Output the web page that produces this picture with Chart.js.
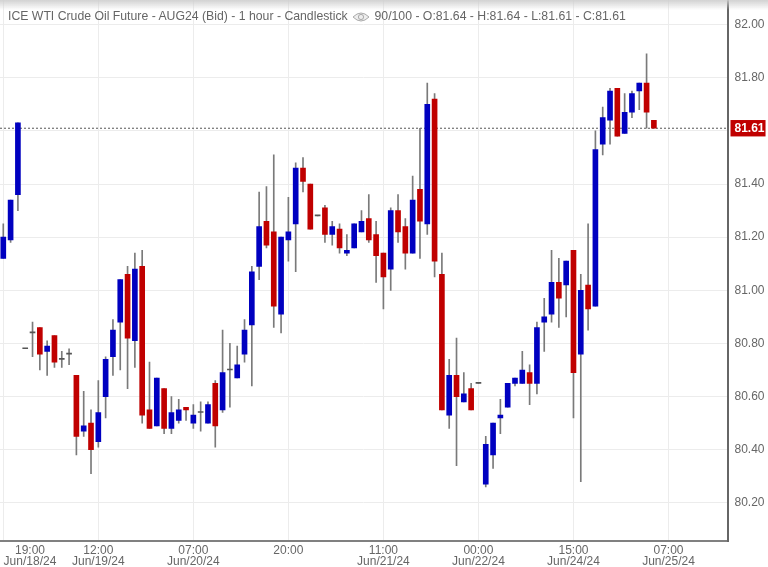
<!DOCTYPE html>
<html>
<head>
<meta charset="utf-8">
<title>ICE WTI Crude Oil Future</title>
<script src="https://cdn.jsdelivr.net/npm/chart.js@4"></script>
<style>
  html, body { margin: 0; padding: 0; background: #fff; overflow: hidden; }
  #wrap { position: relative; width: 768px; height: 567px; }
  canvas { position: absolute; left: 0; top: 0; }
  #topfade { position: absolute; left: 0; top: 0; width: 768px; height: 10px;
    background: linear-gradient(rgba(205,205,205,0.9), rgba(255,255,255,0)); }
  #head { position: absolute; left: 8px; top: 9px; white-space: nowrap; color: #666;
    font: 12.25px "Liberation Sans", Arial, sans-serif; line-height: 14px; }
  #head svg { vertical-align: -3px; margin: 0 1px 0 1px; }
</style>
</head>
<body>
<div id="wrap">
  <canvas id="grafico" width="768" height="567"></canvas>
  <div id="topfade"></div>
  <div id="head">ICE WTI Crude Oil Future - AUG24 (Bid) - 1 hour - Candlestick
    <svg width="18" height="12" viewBox="0 0 18 12"><path d="M1 6 Q9 -2 17 6 Q9 14 1 6 Z" fill="#eee" stroke="#aaa"/><circle cx="9" cy="6" r="2.6" fill="none" stroke="#aaa"/></svg>
    90/100 - O:81.64 - H:81.64 - L:81.61 - C:81.61</div>
</div>
<script>
const opens = [81.12,81.19,81.36,80.78,80.84,80.86,80.77,80.83,80.74,80.76,
  80.68,80.47,80.50,80.43,80.60,80.75,80.88,81.06,80.81,81.09,
  80.55,80.49,80.63,80.48,80.51,80.56,80.50,80.54,80.50,80.65,
  80.55,80.70,80.67,80.76,80.87,81.09,81.26,81.22,80.91,81.19,
  81.25,81.46,81.40,81.28,81.31,81.21,81.23,81.14,81.16,81.22,
  81.27,81.21,81.14,81.08,81.30,81.24,81.14,81.38,81.25,81.72,
  81.06,80.53,80.68,80.58,80.63,80.65,80.27,80.38,80.52,80.56,
  80.65,80.65,80.69,80.65,80.88,80.91,81.03,81.02,81.15,80.76,
  81.02,80.94,81.55,81.64,81.76,81.59,81.67,81.75,81.78,81.64];
const highs = [81.25,81.34,81.63,80.78,80.88,80.86,80.81,80.83,80.77,80.78,
  80.68,80.62,80.55,80.66,80.75,80.89,81.04,81.09,81.14,81.15,
  80.73,80.67,80.63,80.60,80.59,80.56,80.57,80.58,80.58,80.66,
  80.85,80.80,80.79,80.89,81.09,81.37,81.39,81.51,81.20,81.35,
  81.48,81.50,81.40,81.28,81.32,81.26,81.25,81.21,81.25,81.30,
  81.36,81.26,81.14,81.31,81.36,81.27,81.43,81.61,81.78,81.74,
  81.14,80.74,80.82,80.69,80.65,80.65,80.45,80.50,80.59,80.65,
  80.67,80.77,80.72,80.88,80.97,81.15,81.12,81.11,81.15,81.06,
  81.25,81.60,81.69,81.76,81.76,81.74,81.75,81.78,81.89,81.64];
const lows = [81.12,81.18,81.30,80.78,80.75,80.70,80.68,80.71,80.71,80.72,
  80.38,80.45,80.31,80.41,80.52,80.68,80.70,80.63,80.71,80.50,
  80.48,80.49,80.46,80.46,80.50,80.51,80.48,80.47,80.50,80.41,
  80.54,80.56,80.67,80.73,80.64,81.04,81.16,80.86,80.84,81.11,
  81.07,81.37,81.23,81.28,81.18,81.17,81.14,81.13,81.16,81.22,
  81.18,81.03,80.93,81.00,81.18,81.08,81.14,81.12,81.21,81.05,
  80.55,80.48,80.34,80.58,80.55,80.65,80.26,80.33,80.46,80.56,
  80.64,80.65,80.57,80.61,80.77,80.88,80.86,80.90,80.52,80.28,
  80.85,80.94,81.51,81.55,81.58,81.59,81.65,81.68,81.61,81.61];
const closes = [81.20,81.34,81.63,80.78,80.84,80.76,80.79,80.73,80.74,80.76,
  80.45,80.49,80.40,80.54,80.74,80.85,81.04,80.82,81.08,80.53,
  80.48,80.67,80.48,80.54,80.55,80.55,80.53,80.54,80.57,80.49,
  80.69,80.70,80.72,80.85,81.07,81.24,81.17,80.94,81.20,81.22,
  81.46,81.41,81.23,81.28,81.21,81.24,81.16,81.15,81.25,81.26,
  81.19,81.13,81.05,81.30,81.22,81.14,81.34,81.26,81.70,81.11,
  80.55,80.68,80.60,80.61,80.55,80.65,80.42,80.50,80.53,80.65,
  80.67,80.70,80.65,80.86,80.90,81.03,80.97,81.11,80.69,81.00,
  80.93,81.53,81.65,81.75,81.58,81.67,81.74,81.78,81.67,81.61];

const lastPrice = 81.61;
const priceTicks = [80.20,80.40,80.60,80.80,81.00,81.20,81.40,81.60,81.80,82.00];
// candle index of each vertical grid line and its label
const gridIndexes = [0,13,26,39,52,65,78,91];
const gridHours = ['19:00','12:00','07:00','20:00','11:00','00:00','15:00','07:00'];
const gridDates = ['Jun/18/24','Jun/19/24','Jun/20/24','','Jun/21/24','Jun/22/24','Jun/24/24','Jun/25/24'];

const AZUL = '#0000c0';
const VERMELHO = '#c00000';
const CINZA = '#666666';
const fonte = '"Liberation Sans", Arial, sans-serif';

// first label is pushed right so it fits, it has no line of its own
const primeiroRotulo = 3.65;
const xMin = -0.45;
const xMax = 99.07;

const pavios = opens.map((o, i) => ({ x: i, y: [lows[i], highs[i]] }));
const corpos = opens.map((o, i) => ({ x: i, y: [o, closes[i]] }));

function corCandle(ctx) {
  const i = ctx.dataIndex;
  if (opens[i] === closes[i]) return '#555555';
  return closes[i] > opens[i] ? AZUL : VERMELHO;
}

new Chart(document.getElementById('grafico'), {
  type: 'bar',
  data: {
    datasets: [
      {
        label: 'Fechamento',
        type: 'line',
        data: [{ x: xMin, y: lastPrice }, { x: xMax, y: lastPrice }],
        borderColor: '#555',
        borderWidth: 1,
        borderDash: [2, 2],
        pointRadius: 0,
        order: 3
      },
      {
        label: 'Pavio',
        data: pavios,
        backgroundColor: '#7a7a7a',
        barThickness: 1,
        grouped: false,
        order: 2
      },
      {
        label: 'Corpo',
        data: corpos,
        backgroundColor: corCandle,
        barThickness: 5,
        minBarLength: 1,
        grouped: false,
        order: 1
      }
    ]
  },
  options: {
    responsive: false,
    animation: false,
    devicePixelRatio: 1,
    layout: { padding: 0 },
    plugins: { legend: { display: false }, tooltip: { enabled: false }, title: { display: false } },
    scales: {
      x: {
        type: 'linear',
        min: xMin,
        max: xMax,
        offset: false,
        afterBuildTicks: axis => {
          const t = gridIndexes.map(v => ({ value: v }));
          t.splice(1, 0, { value: primeiroRotulo });
          axis.ticks = t;
        },
        grid: {
          offset: false,
          color: ctx => (ctx.tick && ctx.tick.value === primeiroRotulo ? 'rgba(0,0,0,0)' : '#ececec'),
          lineWidth: 1,
          drawTicks: false
        },
        border: { display: true, color: '#808080', width: 2 },
        ticks: {
          autoSkip: false,
          maxRotation: 0,
          padding: 4,
          color: CINZA,
          font: { family: fonte, size: 12, lineHeight: 0.92 },
          callback: value => {
            if (value === primeiroRotulo) return [gridHours[0], gridDates[0]];
            const i = gridIndexes.indexOf(value);
            if (i <= 0) return '';
            return gridDates[i] ? [gridHours[i], gridDates[i]] : gridHours[i];
          }
        },
        afterFit: axis => {
          axis.height = 26;
          axis.paddingLeft = 0;
          axis.paddingRight = 0;
        }
      },
      y: {
        position: 'right',
        min: 80.0565,
        max: 82.0926,
        afterBuildTicks: axis => {
          axis.ticks = priceTicks.map(v => ({ value: v })).concat({ value: lastPrice });
        },
        grid: {
          color: ctx => (ctx.tick && ctx.tick.value === lastPrice ? 'rgba(0,0,0,0)' : '#ececec'),
          lineWidth: 1,
          drawTicks: false
        },
        border: { display: true, color: '#666', width: 2 },
        ticks: {
          padding: 7,
          crossAlign: 'near',
          color: ctx => (ctx.tick && ctx.tick.value === lastPrice ? '#ffffff' : CINZA),
          font: ctx => ({ family: fonte, size: 12, weight: ctx.tick && ctx.tick.value === lastPrice ? 'bold' : 'normal' }),
          showLabelBackdrop: ctx => !!(ctx.tick && ctx.tick.value === lastPrice),
          backdropColor: VERMELHO,
          backdropPadding: { top: 1, bottom: 1, left: 4, right: 1 },
          callback: value => {
            // the 81.60 line keeps no label, the last price box sits on it
            if (value === 81.6) return '';
            return value.toFixed(2);
          }
        },
        afterFit: axis => {
          axis.width = 40.5;
          axis.paddingTop = 0;
          axis.paddingBottom = 0;
        }
      }
    }
  }
});
</script>
</body>
</html>
